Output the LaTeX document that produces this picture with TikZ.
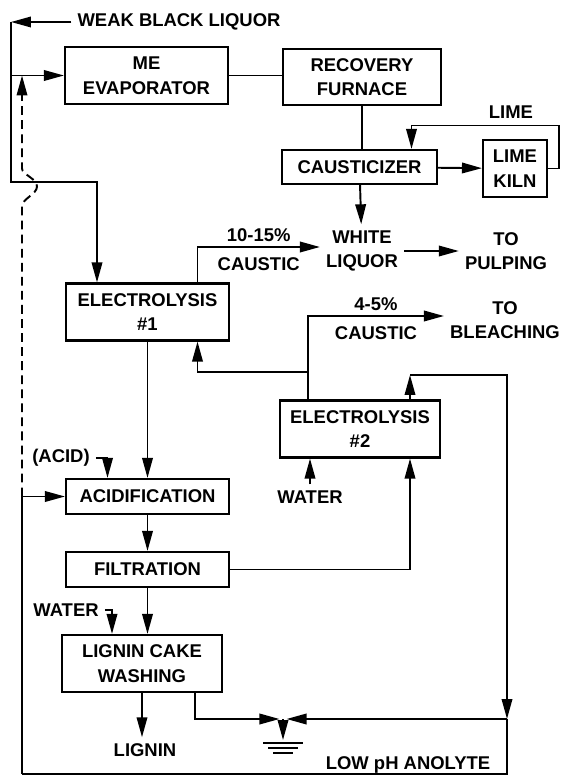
\documentclass[tikz,border=0pt]{standalone}
\usepackage{fontspec}
\setmainfont{Liberation Sans}
\usepackage{tikz}
\usetikzlibrary{arrows.meta, calc}
\tikzset{
    unit/.style={draw, line width=1.2pt, align=center, minimum width=3.26cm, minimum height=1.14cm},
    flatunit/.style={unit, minimum height=0.7cm},
    stream/.style={align=center},
    pipe/.style={line width=1.1pt},
    flow/.style={pipe, -{Triangle[length=4mm, width=2.1mm]}},
    bypass/.style={flow, dash pattern=on 5pt off 3pt}
}

\begin{document}
\begin{tikzpicture}[x=0.02cm, y=-0.02cm, font=\fontsize{10.5}{14}\selectfont\bfseries]
    \useasboundingbox (0,0) rectangle (563,776);

    % process units
    \node[unit] (evap) at (146.5,75.5) {ME\\EVAPORATOR};
    \node[unit, minimum width=3.16cm, minimum height=1.12cm] (furn) at (362,77) {RECOVERY\\FURNACE};
    \node[flatunit, minimum width=3.1cm, minimum height=0.68cm] (caus) at (359.5,167) {CAUSTICIZER};
    \node[unit, minimum width=1.28cm] (kiln) at (515,168.5) {LIME\\KILN};
    \node[unit] (el1) at (147.5,312) {ELECTROLYSIS\\\#1};
    \node[unit, minimum width=3.2cm] (el2) at (360,429) {ELECTROLYSIS\\\#2};
    \node[flatunit] (acid) at (147.5,496.5) {ACIDIFICATION};
    \node[flatunit] (filt) at (147.5,569.5) {FILTRATION};
    \node[unit, minimum width=3.2cm] (wash) at (142,663.5) {LIGNIN CAKE\\WASHING};

    % streams
    \node[stream] (wbl) at (179,22) {WEAK BLACK LIQUOR};
    \node[stream] (lime) at (511,112) {LIME};
    \node[stream] (wliq) at (362,251) {WHITE\\LIQUOR};
    \node[stream] (pulp) at (506,251) {TO\\PULPING};
    \node[stream] (bleach) at (505,320) {TO\\BLEACHING};
    \node[stream] (acidin) at (61,458) {(ACID)};
    \node[stream] (water2) at (310,497) {WATER};
    \node[stream] (water1) at (66,610) {WATER};
    \node[stream] (lignin) at (145,750) {LIGNIN};
    \node[stream] (anolyte) at (408,765) {LOW pH ANOLYTE};

    \coordinate (wb) at (11,22);
    \coordinate (wbj) at (97,182);
    \coordinate (an1) at (410,375);
    \coordinate (an2) at (507,719);
    \coordinate (an3) at (507,774);
    \coordinate (an4) at (22,774);
    \coordinate (gnd) at (283,719);

    % weak black liquor
    \draw[flow] (wbl) -- (wb);
    \draw[flow] (wb) |- (wbj) -- (wbj |- el1.north);
    \draw[flow] (wb |- evap.west) -- (evap.west);
    \draw[bypass] (an4 |- acid.west) -- ++(0,-290)
        .. controls +(0,-8) and +(0,8) .. ++(15,-20)
        .. controls +(0,-8) and +(0,6) .. ++(-15,-18) -- (an4 |- evap.west);

    % kraft recovery
    \draw[pipe] (evap.east) -- (evap.east -| furn.west);
    \draw[pipe] (furn.south) -- (furn.south |- caus.north);
    \draw[flow] (caus) -- (kiln);
    \draw[flow] (kiln.east) -- ++(11,0) -- ++(0,-43) -| ($(caus.north)+(52,0)$);
    \draw[flow] (caus) -- (wliq);
    \draw[flow] (wliq) -- (pulp);

    % caustic from the cells
    \draw[flow] ($(el1.north)+(50,0)$) |- ($(wliq.west)+(0,-4)$)
        node[pos=.75, above=-1pt] {10-15\%} node[pos=.75, below=2pt] {CAUSTIC};
    \draw[flow] ($(el2.north)+(-52,0)$) |- ($(bleach.west)+(0,-4)$)
        node[pos=.75, above=-1pt] {4-5\%} node[pos=.75, below=2pt] {CAUSTIC};
    \draw[flow] ($(el2.north)+(-52,-27)$) -| ($(el1.south)+(50,0)$);
    \draw[flow] (water2) -- (water2 |- el2.south);

    % lignin line
    \draw[flow] (el1) -- (acid);
    \draw[flow] (acidin.east) -| ($(acid.north)+(-40,0)$);
    \draw[flow] (acid) -- (filt);
    \draw[flow] (filt.south) -- (filt.south |- wash.north);
    \draw[flow] (water1.east) -| ($(wash.north)+(-30,0)$);
    \draw[flow] (wash.south) -- (wash.south |- lignin.north);
    \draw[flow] (filt.east) -| ($(el2.south)+(50,0)$);

    % low pH anolyte
    \draw[flow] (an1 |- el2.north) -- (an1);
    \draw[flow] (an1) -| (an2);
    \draw[pipe] (an2) -- (an3) -- (an4);
    \draw[flow] (an4) |- (acid.west);
    \draw[flow, shorten >=2pt] (an2) -- (gnd);
    \draw[flow, shorten >=2pt] ($(wash.south)+(53,0)$) |- (gnd);
    \draw[flow] (gnd) -- ++(0,21);
    \draw[pipe] ($(gnd)+(-20,24)$) -- ++(40,0)
                ($(gnd)+(-15,29)$) -- ++(30,0)
                ($(gnd)+(-10,34)$) -- ++(20,0);
\end{tikzpicture}
\end{document}
